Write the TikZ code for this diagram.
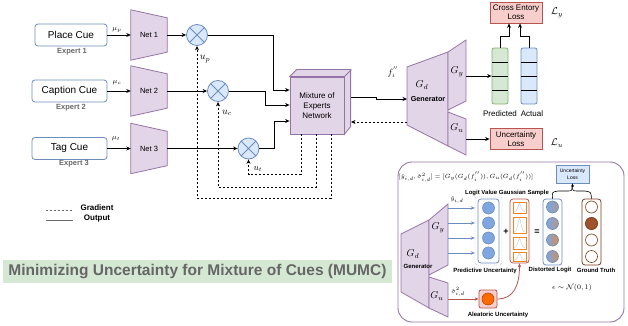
\documentclass[tikz,border=0pt]{standalone}
\usepackage{fontspec}
\setmainfont{Liberation Sans}
\usetikzlibrary{arrows.meta,calc,shapes.geometric}
\definecolor{cueblue}{HTML}{6C8EBF}
\definecolor{bluefill}{HTML}{DAE8FC}
\definecolor{purp}{HTML}{9673A6}
\definecolor{purpfill}{HTML}{E1D5E7}
\definecolor{redline}{HTML}{B85450}
\definecolor{redfill}{HTML}{F8CECC}
\definecolor{greenline}{HTML}{82B366}
\definecolor{greenfill}{HTML}{D5E8D4}
\definecolor{circblue}{HTML}{7EA6E0}
\definecolor{orgline}{HTML}{F5831F}
\definecolor{orgfill}{HTML}{FF6A00}
\definecolor{brownline}{HTML}{7A3B1A}
\definecolor{brownfill}{HTML}{A0522D}
\definecolor{txtgray}{HTML}{666666}
\newcommand{\gaussq}[2]{%
  \draw[orgline, line width=0.7pt] (513,#1) rectangle (526,#2);
  \draw[gray!45, line width=0.4pt] (514,#2-1) .. controls (517.5,#2-1) and (518.5,#1+1.5) .. (519.5,#1+1.5) .. controls (520.5,#1+1.5) and (521.5,#2-1) .. (525,#2-1);}
\begin{document}
\begin{tikzpicture}[x=1pt,y=-1pt,
  cue/.style={draw=cueblue, fill=white, rounded corners=3pt, minimum width=72, minimum height=22, inner sep=0, line width=0.8pt, font=\fontsize{10}{12}\selectfont},
  expert/.style={font=\bfseries\fontsize{7.5}{9}\selectfont, text=txtgray},
  netn/.style={minimum width=36, minimum height=50, inner sep=0, font=\fontsize{7.5}{9}\selectfont},
  trap/.style={draw=purp, fill=purpfill, line width=0.8pt},
  mult/.style={circle, draw=cueblue, fill=bluefill, minimum size=21, inner sep=0, line width=0.8pt,
     path picture={\draw[cueblue, line width=0.8pt] (path picture bounding box.north west) -- (path picture bounding box.south east) (path picture bounding box.north east) -- (path picture bounding box.south west);}},
  arr/.style={-{Stealth[length=4.5pt,width=4pt]}, line width=0.8pt},
  grad/.style={arr, dash pattern=on 2pt off 2pt},
  lossbox/.style={draw=redline, fill=redfill, line width=0.8pt, minimum width=52, minimum height=21, inner sep=0, align=center, font=\fontsize{8}{9}\selectfont},
  vec/.style={rounded corners=2pt, line width=0.8pt, minimum width=16, minimum height=56, inner sep=0},
  lbl/.style={font=\fontsize{8}{9}\selectfont},
  sm/.style={font=\bfseries\fontsize{6}{7}\selectfont},
  pc/.style={circle, minimum size=12, inner sep=0, line width=0.6pt},
]
\useasboundingbox (0,0) rectangle (628,326);

% ---- cues
\node[cue] (place) at (71,35) {Place Cue};
\node[cue, minimum width=75] (caption) at (69.5,91) {Caption Cue};
\node[cue, minimum width=75] (tag) at (69.5,148.5) {Tag Cue};
\node[expert] at (72,52) {Expert 1};
\node[expert] at (71,108) {Expert 2};
\node[expert] at (74,164) {Expert 3};

% ---- nets
\foreach \n/\y/\t in {n1/35/Net 1, n2/91/Net 2, n3/148.5/Net 3}{
  \node[netn] (\n) at (149,\y) {};
  \draw[trap] (\n.north west) -- ($(\n.north east)+(0,8)$) -- ($(\n.south east)+(0,-8)$) -- (\n.south west) -- cycle;
  \node[font=\fontsize{7.5}{9}\selectfont] at (\n) {\t};
}
\draw[arr] (place.east) -- (n1.west);
\draw[arr] (caption.east) -- (n2.west);
\draw[arr] (tag.east) -- (n3.west);
\node[font=\fontsize{7}{8}\selectfont] at (117,30) {$\mu_p$};
\node[font=\fontsize{7}{8}\selectfont] at (117,83) {$\mu_c$};
\node[font=\fontsize{7}{8}\selectfont] at (116,139) {$\mu_t$};

% ---- multipliers
\node[mult] (m1) at (197,35) {};
\node[mult] (m2) at (218,91) {};
\node[mult] (m3) at (248.5,148.5) {};
\draw[arr] (n1.east) -- (m1.west);
\draw[arr] (n2.east) -- (m2.west);
\draw[arr] (n3.east) -- (m3.west);
\node[font=\fontsize{10}{11}\selectfont] at (205,59) {$u_p$};
\node[font=\fontsize{10}{11}\selectfont] at (227,113) {$u_c$};
\node[font=\fontsize{9}{10}\selectfont] at (258,169) {$u_t$};

% ---- mixture of experts
\node[fill=purpfill, draw=purp, line width=0.8pt, minimum width=54, minimum height=57, inner sep=0, align=center, font=\fontsize{8}{10}\selectfont] (moe) at (317,105.5) {Mixture of\\Experts\\Network};
\draw[trap] (moe.north west) -- ++(7,-7) -- ++(54,0) -- ++(0,57) -- (moe.south east) -- (moe.north east) -- cycle;
\draw[purp, line width=0.8pt] (moe.north east) -- ++(7,-7);

\draw[arr] (m1.east) -- (273,35) |- ([yshift=15.5pt]moe.west);
\draw[arr] (m2.east) -- (265,91) |- ([yshift=0.5pt]moe.west);
\draw[arr] (m3.east) -- (274,148.5) |- ([yshift=-15.5pt]moe.west);

\draw[grad] ([xshift=14pt]moe.south) -- ++(0,64) -| (m1.south);
\draw[grad] ([xshift=-1pt]moe.south) -- ++(0,53) -| (m2.south);
\draw[grad] ([xshift=-16pt]moe.south) -- ++(0,40) -| (m3.south);

% ---- generator (main)
\draw[trap] (407,67) -- (448,52) -- (448,146) -- (407,125) -- cycle;
\draw[trap] (448,52) -- (466,40) -- (466,101) -- (448,110) -- cycle;
\draw[trap] (448,112) -- (466,119) -- (466,155) -- (448,146) -- cycle;
\node[font=\fontsize{10}{11}\selectfont] (gdlabel) at (422,85) {$G_d$};
\node[font=\bfseries\fontsize{7.2}{8}\selectfont] (gen) at (428,99) {Generator};
\node[font=\fontsize{10}{11}\selectfont] (gylabel) at (457,72) {$G_y$};
\node[font=\fontsize{10}{11}\selectfont] (gulabel) at (457,128) {$G_u$};
\coordinate (moeout) at (351,97);
\coordinate (gdin) at (407,99);
\coordinate (gdback) at (407,122);
\coordinate (moeback) at (351,122);
\draw[arr] (moeout) -- (376,97) -- (376,99) -- (gdin);
\draw[grad] (gdback) -- (moeback);
\node[font=\fontsize{9}{10}\selectfont] at (393,72) {$f_i^{''}$};

% ---- predicted / actual
\node[vec, draw=greenline, fill=greenfill] (pred) at (500,76) {};
\node[vec, draw=cueblue, fill=bluefill] (act) at (529,76) {};
\foreach \v in {pred,act}{
  \foreach \dy in {-14,0,14}{
    \draw[line width=0.8pt] ([yshift=\dy pt]\v.west) -- ([yshift=\dy pt]\v.east);
  }
}
\coordinate (gyout) at (466,76);
\draw[arr] (gyout) -- (pred.west);
\node[lbl] at (500,114) {Predicted};
\node[lbl] at (532,114) {Actual};

\node[lossbox] (ce) at (516,12.5) {Cross Entory\\Loss};
\node[font=\fontsize{10}{11}\selectfont] at (557,13) {$\mathcal{L}_y$};
\draw[arr] (pred.north) -- ++(0,-11) -| ([xshift=-7pt]ce.south);
\draw[arr] (act.north) -- ++(0,-11) -| ([xshift=4pt]ce.south);

\node[lossbox] (ul) at (516,139) {Uncertainty\\Loss};
\node[font=\fontsize{10}{11}\selectfont] at (557,143) {$\mathcal{L}_u$};
\coordinate (guout) at (466,139);
\draw[arr] (guout) -- (ul.west);

% ---- legend
\coordinate (lga) at (46,210);
\coordinate (lgb) at (73,210);
\coordinate (lgc) at (46,220);
\coordinate (lgd) at (73,220);
\draw[txtgray, line width=0.8pt, dash pattern=on 2pt off 2pt] (lga) -- (lgb);
\draw[txtgray, line width=1pt] (lgc) -- (lgd);
\node[font=\bfseries\fontsize{8}{9}\selectfont] at (97,208) {Gradient};
\node[font=\bfseries\fontsize{8}{9}\selectfont] at (97,219) {Output};

% ---- title
\node[fill=greenfill, minimum width=389, minimum height=23, inner sep=0, text=txtgray, font=\bfseries\fontsize{15.5}{17}\selectfont] (title) at (197.5,271.5) {Minimizing Uncertainty for Mixture of Cues (MUMC)};

% ---- inset
\draw[purp, line width=0.9pt, rounded corners=14pt] (398,162) rectangle (624,322);
\node[font=\fontsize{6}{7}\selectfont, inner sep=0] (formula) at (466,177) {$[\hat{y}_{i,d},\hat{\sigma}^2_{i,d}]=[G_y(G_d(f_i^{''})),G_u(G_d(f_i^{''}))]$};
\node[draw=cueblue, fill=bluefill, line width=0.7pt, minimum width=33, minimum height=18, inner sep=0, align=center, font=\fontsize{5}{7}\selectfont] (ul2) at (572.5,174) {Uncertainty\\Loss};
\node[sm] at (507,193) {Logit Value Gaussian Sample};

% inset generator
\draw[trap] (401,234) -- (429,220) -- (429,308) -- (401,292) -- cycle;
\draw[trap] (429,220) -- (448,204) -- (448,265) -- (429,275) -- cycle;
\draw[trap] (429,277) -- (448,283) -- (448,317) -- (429,308) -- cycle;
\node[font=\fontsize{10}{11}\selectfont] at (413,254) {$G_d$};
\node[font=\bfseries\fontsize{6}{7}\selectfont] at (418,266) {Generator};
\node[font=\fontsize{10}{11}\selectfont] at (438,228) {$G_y$};
\node[font=\fontsize{10}{11}\selectfont, inner sep=1pt] at (437,296) {$G_u$};
\node[font=\fontsize{6}{7}\selectfont] at (457,200) {$\hat{y}_{i,d}$};
\node[font=\fontsize{6}{7}\selectfont, inner sep=0.5pt] at (458,292) {$\hat{\sigma}^2_{i,d}$};

% predictive uncertainty
\node[draw=gray!70, dash pattern=on 1pt off 1pt, rounded corners=2pt, minimum width=27, minimum height=68, inner sep=0] (pubox) at (488.5,231) {};
\node[draw=cueblue, fill=white, line width=0.8pt, rounded corners=3pt, minimum width=21, minimum height=64, inner sep=0] (puin) at (488.5,231) {};
\foreach \i/\y in {1/208,2/223,3/238,4/253}{
  \node[pc, fill=circblue, draw=cueblue] (pc\i) at (488.5,\y) {};
  \coordinate (gys\i) at (448,\y);
  \draw[cueblue, -{Stealth[length=4pt,width=3.5pt]}, line width=0.8pt] (gys\i) -- (pubox.west |- pc\i);
}
\node[sm] at (485,271) {Predictive Uncertainty};
\node[font=\bfseries\fontsize{9}{10}\selectfont] at (506,232) {+};

% gaussian sample
\node[draw=redline, fill=white, line width=0.8pt, rounded corners=3pt, minimum width=19, minimum height=64, inner sep=0] (gs) at (519.5,231) {};
\gaussq{202}{213}
\gaussq{217}{233}
\gaussq{237}{249}
\gaussq{252}{261.5}
\node[font=\bfseries\fontsize{9}{10}\selectfont] at (537,232) {=};

% distorted logit
\node[draw=cueblue, fill=white, line width=0.8pt, rounded corners=3pt, minimum width=19, minimum height=66, inner sep=0] (dl) at (552.5,232) {};
\foreach \i/\y/\c in {1/207/35,2/223.5/45,3/240/75,4/256.5/65}{
  \node[pc, draw=cueblue, left color=circblue, right color=orgline!\c!circblue] (dc\i) at (552.5,\y) {};
}
% ground truth
\node[draw=brownline, fill=white, line width=0.8pt, rounded corners=3pt, minimum width=19, minimum height=66, inner sep=0] (gt) at (591.5,232) {};
\foreach \i/\y in {1/207,2/223.5,3/240,4/256.5}{
  \node[pc, draw=brownline, fill=white] (gc\i) at (591.5,\y) {};
}
\node[pc, draw=brownline, fill=brownfill] at (591.5,223.5) {};
\node[sm] at (550,270) {Distorted Logit};
\node[sm] at (596,270) {Ground Truth};

% brace to uncertainty loss
\draw[line width=0.6pt] (dl.north) .. controls (552,192) .. (558,191) -- (566,191) .. controls (572,191) .. (572,187);
\draw[line width=0.6pt, -{Stealth[length=3.5pt,width=3pt]}] (gt.north) .. controls (591,192) .. (585,191) -- (578,191) .. controls (572.5,191) .. (ul2.south);

% aleatoric
\node[draw=redline, fill=redfill, line width=0.8pt, rounded corners=2pt, minimum size=18, inner sep=0] (al) at (488,299) {};
\node[pc, fill=orgfill, draw=orgfill!70!black] at (488,299) {};
\coordinate (gus) at (448,299);
\draw[redline, -{Stealth[length=4pt,width=3.5pt]}, line width=0.8pt] (gus) -- (al.west);
\draw[redline, -{Stealth[length=4pt,width=3.5pt]}, line width=0.8pt] (al.east) .. controls (514,299) and (519.5,285) .. (gs.south);
\node[sm] at (498,315) {Aleatoric Uncertainty};

\node[font=\fontsize{7}{8}\selectfont] at (572,288) {$\epsilon\sim\mathcal{N}(0,1)$};
\end{tikzpicture}
\end{document}
